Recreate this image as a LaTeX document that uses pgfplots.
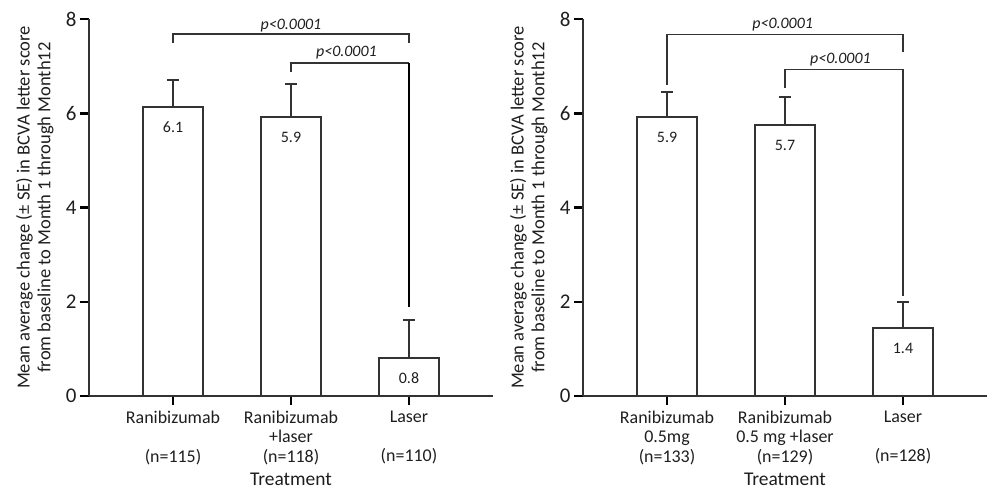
\documentclass[border=0pt]{standalone}
\usepackage{fontspec}
\setmainfont{Carlito}
\usepackage{pgfplots}
\pgfplotsset{compat=1.18}
\usepackage{pgfplotstable}
\definecolor{dk}{HTML}{333333}
\definecolor{tx}{HTML}{1E1E1E}
\pgfplotstableread{
x y e lab
0 6.13 0.58 6.1
1 5.92 0.70 5.9
2 0.81 0.80 0.8
}\leftdata
\pgfplotstableread{
x y e lab
0 5.92 0.53 5.9
1 5.75 0.60 5.7
2 1.44 0.56 1.4
}\rightdata
\tikzset{pl/.style={font=\fontsize{16}{18}\selectfont\itshape, text=tx}}
\pgfplotsset{
  panel/.style={
    scale only axis, width=404bp, height=377bp,
    xmin=-0.712, xmax=2.712, ymin=0, ymax=8,
    axis lines*=left, clip=false,
    axis line style={line width=2bp, color=dk},
    ytick={0,2,4,6,8}, xtick={0,1,2},
    tick align=outside, major tick length=9bp,
    tick style={line width=2.5bp, black},
    /pgf/number format/assume math mode=true,
    yticklabel style={font=\fontsize{21}{24}\selectfont, text=tx},
    xticklabel style={font=\fontsize{18}{19.5}\selectfont, align=center, anchor=north, text=tx, yshift=-2.5bp},
    xlabel={Treatment},
    xlabel style={font=\fontsize{19.5}{24}\selectfont, text=tx, inner sep=0pt, at={(axis description cs:0.5,0)}, anchor=center, yshift=-83bp},
    ylabel={Mean average change (± SE) in BCVA letter score\\from baseline to Month 1 through Month12},
    ylabel style={font=\fontsize{18.6}{21}\selectfont, text=tx, align=center, inner sep=0pt, at={(axis description cs:-0.087,0.5)}, anchor=south},
  },
  bars/.style={
    ybar, bar width=0.51, fill=white, draw=dk, line width=1.5bp,
    point meta=explicit symbolic,
    nodes near coords,
    nodes near coords style={anchor=center, yshift=-20bp, font=\fontsize{16}{18}\selectfont, text=tx},
    error bars/.cd, y dir=plus, y explicit,
    error mark=|, error mark options={line width=1.5bp, mark size=6bp, color=dk},
    error bar style={line width=1.5bp, color=dk},
  },
  brk/.style={no marks, sharp plot, line width=1.5bp, color=dk},
}
\begin{document}
\begin{tikzpicture}
\useasboundingbox (0,0) rectangle (987bp,491bp);
\begin{axis}[panel, at={(89bp,95bp)}, anchor=south west,
  xticklabels={{Ranibizumab\\\strut\\(n=115)},{Ranibizumab\\+laser\\(n=118)},{Laser\\\strut\\(n=110)}}]
\addplot[bars] table[x=x, y=y, y error=e, meta=lab] {\leftdata};
\addplot[brk] coordinates {(0,7.49) (0,7.68) (2,7.68) (2,7.49)};
\addplot[brk] coordinates {(1,6.88) (1,7.07) (2,7.07)};
\addplot[brk, line width=2.5bp, color=black] coordinates {(2,7.07) (2,1.89)};
\node[pl] at (axis cs:1.0,7.87) {p<0.0001};
\node[pl] at (axis cs:1.47,7.28) {p<0.0001};
\end{axis}
\begin{axis}[panel, at={(583bp,95bp)}, anchor=south west,
  xticklabels={{Ranibizumab\\0.5mg\\(n=133)},{Ranibizumab\\0.5 mg +laser\\(n=129)},{Laser\\\strut\\(n=128)}}]
\addplot[bars] table[x=x, y=y, y error=e, meta=lab] {\rightdata};
\addplot[brk] coordinates {(0,6.6) (0,7.67) (2,7.67) (2,7.3)};
\addplot[brk] coordinates {(1,6.54) (1,6.93) (2,6.93) (2,2.12)};
\node[pl] at (axis cs:0.98,7.89) {p<0.0001};
\node[pl] at (axis cs:1.47,7.13) {p<0.0001};
\end{axis}
\end{tikzpicture}
\end{document}
